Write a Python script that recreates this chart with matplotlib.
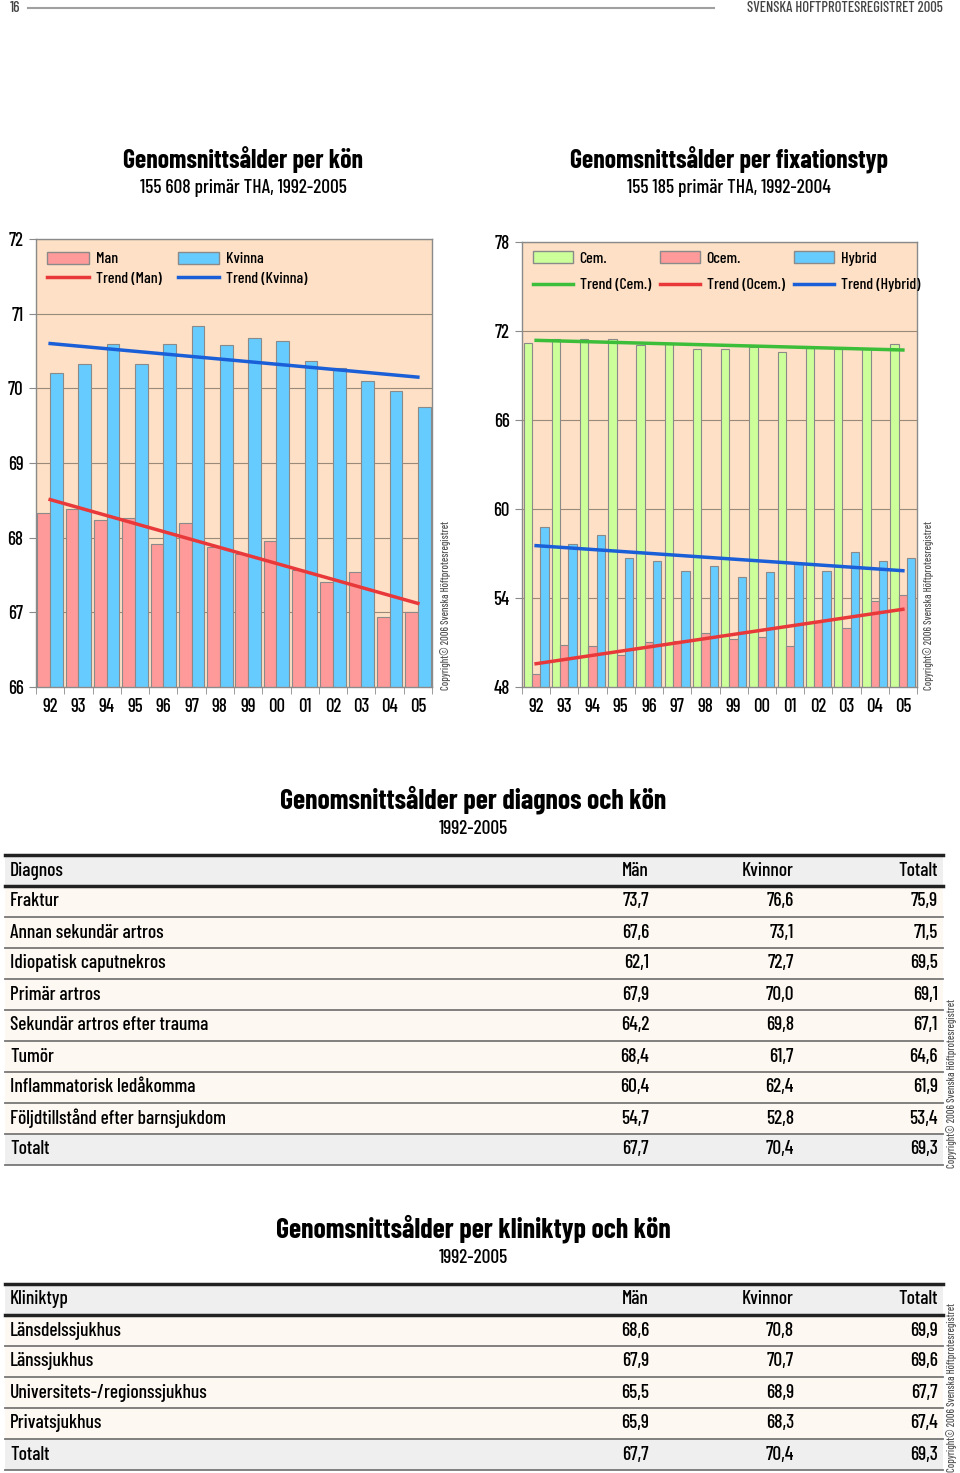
import numpy as np
import matplotlib
matplotlib.use('Agg')
import matplotlib.pyplot as plt
from matplotlib import font_manager as fm
from matplotlib.patches import Rectangle, Patch
from matplotlib.lines import Line2D

# data
years = ['92', '93', '94', '95', '96', '97', '98', '99', '00', '01', '02', '03', '04', '05']

man = [68.33, 68.38, 68.24, 68.27, 67.92, 68.19, 67.88, 67.78, 67.96, 67.57, 67.40, 67.54, 66.94, 67.00]
kvinna = [70.20, 70.33, 70.60, 70.33, 70.60, 70.83, 70.58, 70.68, 70.64, 70.37, 70.27, 70.10, 69.96, 69.75]
trend_man = [68.51, 67.12]
trend_kvinna = [70.60, 70.15]

cem = [71.21, 71.46, 71.46, 71.46, 71.03, 71.21, 70.81, 70.81, 70.90, 70.60, 70.85, 70.80, 70.80, 71.12]
ocem = [48.85, 50.85, 50.74, 50.13, 51.03, 51.10, 51.66, 51.26, 51.37, 50.74, 52.40, 52.00, 53.78, 54.18]
hybrid = [58.79, 57.64, 58.27, 56.70, 56.49, 55.84, 56.18, 55.44, 55.75, 56.30, 55.84, 57.12, 56.49, 56.70]
trend_cem = [71.37, 70.72]
trend_ocem = [49.57, 53.24]
trend_hybrid = [57.53, 55.84]

diag_header = ['Diagnos', 'Män', 'Kvinnor', 'Totalt']
diagnoses = ['Fraktur', 'Annan sekundär artros', 'Idiopatisk caputnekros', 'Primär artros',
             'Sekundär artros efter trauma', 'Tumör', 'Inflammatorisk ledåkomma',
             'Följdtillstånd efter barnsjukdom', 'Totalt']
diag_man = ['73,7', '67,6', '62,1', '67,9', '64,2', '68,4', '60,4', '54,7', '67,7']
diag_kvinnor = ['76,6', '73,1', '72,7', '70,0', '69,8', '61,7', '62,4', '52,8', '70,4']
diag_totalt = ['75,9', '71,5', '69,5', '69,1', '67,1', '64,6', '61,9', '53,4', '69,3']

klin_header = ['Kliniktyp', 'Män', 'Kvinnor', 'Totalt']
kliniker = ['Länsdelssjukhus', 'Länssjukhus', 'Universitets-/regionssjukhus', 'Privatsjukhus', 'Totalt']
klin_man = ['68,6', '67,9', '65,5', '65,9', '67,7']
klin_kvinnor = ['70,8', '70,7', '68,9', '68,3', '70,4']
klin_totalt = ['69,9', '69,6', '67,7', '67,4', '69,3']

# narrow fonts close to the original condensed typeface
installed = {f.name for f in fm.fontManager.ttflist}
bold_ok = {f.name for f in fm.fontManager.ttflist
           if isinstance(f.weight, int) and f.weight >= 600 or f.weight == 'bold'}


def pick(cands, pool):
    for c in cands:
        if c in pool:
            return c
    return 'DejaVu Sans'


BODY = pick(['Barlow Condensed', 'Roboto Condensed', 'Archivo Narrow', 'PT Sans Narrow', 'Abel',
             'Liberation Sans'], installed)
HEAD = pick(['Barlow Condensed', 'Roboto Condensed', 'Archivo Narrow', 'PT Sans Narrow', 'Oswald',
             'Liberation Sans'], bold_ok)
plt.rcParams['font.family'] = [BODY, 'DejaVu Sans']
plt.rcParams['font.weight'] = 'medium'

PEACH = '#FDE0C5'
PINK = '#FF9A9A'
LBLUE = '#66CCFF'
LGREEN = '#CCFF99'
RED = '#E8383A'
BLUE = '#1A5FD8'
GREEN = '#3DBE3A'
EDGE = '#8A8A8A'
COPY = 'Copyright© 2006 Svenska Höftprotesregistret'

W, H = 960, 1473
fig = plt.figure(figsize=(W / 100, H / 100), dpi=100)

# page-level axes in pixel coordinates
bg = fig.add_axes([0, 0, 1, 1], zorder=0)
bg.set_xlim(0, W)
bg.set_ylim(H, 0)
bg.axis('off')

bg.text(10, 8, '16', fontsize=11, color='#444444', va='center', ha='left')
bg.plot([28, 714], [8, 8], color='#A0A0A0', lw=1.5)
bg.text(943, 8, 'SVENSKA HÖFTPROTESREGISTRET 2005', fontsize=10.5, color='#444444',
        va='center', ha='right')


def px_axes(l, t, r, b):
    return fig.add_axes([l / W, 1 - b / H, (r - l) / W, (b - t) / H], zorder=2)


def style_chart(ax, ylo, yhi, step):
    x = np.arange(len(years))
    ax.set_facecolor(PEACH)
    ax.set_xlim(-0.5, len(years) - 0.5)
    ax.set_ylim(ylo, yhi)
    ax.set_yticks(np.arange(ylo, yhi + 0.1, step))
    ax.yaxis.grid(True, color='#9A8A7A', lw=0.8)
    ax.set_axisbelow(True)
    ax.set_xticks(x)
    ax.set_xticklabels(years)
    ax.set_xticks(np.arange(-0.5, len(years)), minor=True)
    ax.tick_params(axis='x', which='major', length=0, pad=8, labelsize=13.5)
    ax.tick_params(axis='x', which='minor', length=5, color=EDGE)
    ax.tick_params(axis='y', length=5, color=EDGE, labelsize=13.5, pad=4)
    for s in ax.spines.values():
        s.set_color(EDGE)
        s.set_linewidth(1)


# left chart
axl = px_axes(36, 239, 432, 687)
x = np.arange(len(years))
style_chart(axl, 66, 72, 1)
bw = 0.45
axl.bar(x - bw / 2, man, bw, color=PINK, edgecolor=EDGE, lw=0.8)
axl.bar(x + bw / 2, kvinna, bw, color=LBLUE, edgecolor=EDGE, lw=0.8)
axl.plot([x[0], x[-1]], trend_man, color=RED, lw=2.5)
axl.plot([x[0], x[-1]], trend_kvinna, color=BLUE, lw=2.5)
hl = [Patch(facecolor=PINK, edgecolor=EDGE), Line2D([], [], color=RED, lw=2.5),
      Patch(facecolor=LBLUE, edgecolor=EDGE), Line2D([], [], color=BLUE, lw=2.5)]
axl.legend(hl, ['Man', 'Trend (Man)', 'Kvinna', 'Trend (Kvinna)'], ncol=2, loc='upper left',
           bbox_to_anchor=(-0.008, 1.003), frameon=False, fontsize=11.5, handlelength=2.6,
           handleheight=0.75, labelspacing=0.3, columnspacing=1.0, handletextpad=0.45)

# right chart
axr = px_axes(522, 242, 917, 687)
style_chart(axr, 48, 78, 6)
bw = 0.295
axr.bar(x - bw, cem, bw, color=LGREEN, edgecolor=EDGE, lw=0.8)
axr.bar(x, ocem, bw, color=PINK, edgecolor=EDGE, lw=0.8)
axr.bar(x + bw, hybrid, bw, color=LBLUE, edgecolor=EDGE, lw=0.8)
axr.plot([x[0], x[-1]], trend_cem, color=GREEN, lw=2.5)
axr.plot([x[0], x[-1]], trend_ocem, color=RED, lw=2.5)
axr.plot([x[0], x[-1]], trend_hybrid, color=BLUE, lw=2.5)
hr = [Patch(facecolor=LGREEN, edgecolor=EDGE), Line2D([], [], color=GREEN, lw=2.5),
      Patch(facecolor=PINK, edgecolor=EDGE), Line2D([], [], color=RED, lw=2.5),
      Patch(facecolor=LBLUE, edgecolor=EDGE), Line2D([], [], color=BLUE, lw=2.5)]
axr.legend(hr, ['Cem.', 'Trend (Cem.)', 'Ocem.', 'Trend (Ocem.)', 'Hybrid', 'Trend (Hybrid)'],
           ncol=3, loc='upper left', bbox_to_anchor=(-0.008, 1.011), frameon=False, fontsize=11.5,
           handlelength=2.5, handleheight=0.75, labelspacing=0.75, columnspacing=0.6,
           handletextpad=0.4)

# chart titles
for cx, title, sub in [(243, 'Genomsnittsålder per kön', '155 608 primär THA, 1992-2005'),
                       (729, 'Genomsnittsålder per fixationstyp', '155 185 primär THA, 1992-2004')]:
    bg.text(cx, 160, title, fontsize=18.5, fontweight='bold', family=[HEAD, 'DejaVu Sans'],
            ha='center', va='center')
    bg.text(cx, 188, sub, fontsize=14, ha='center', va='center')

for cx in [446, 929]:
    bg.text(cx, 606, COPY, fontsize=7.5, color='#555555', rotation=90, ha='center', va='center')


def draw_table(top, title, header, names, c1, c2, c3):
    rh = 31
    bg.text(473, top - 55, title, fontsize=20, fontweight='bold', family=[HEAD, 'DejaVu Sans'],
            ha='center', va='center')
    bg.text(473, top - 26, '1992-2005', fontsize=14, ha='center', va='center')
    rows = [header] + [[n, a, b, c] for n, a, b, c in zip(names, c1, c2, c3)]
    for i, row in enumerate(rows):
        y0 = top + i * rh
        if i == 0 or i == len(rows) - 1:
            fc = '#EFEFEF'
        else:
            fc = '#FDF8F1'
        bg.add_patch(Rectangle((5, y0), 938, rh, facecolor=fc, edgecolor='none'))
        yc = y0 + rh / 2
        bg.text(10, yc, row[0], fontsize=14, ha='left', va='center')
        for xr, val in zip([649, 794, 938], row[1:]):
            bg.text(xr, yc, val, fontsize=14, ha='right', va='center')
        if i >= 1:
            lc, lw = ('#222222', 2.5) if i == 1 else ('#777777', 1.3)
            bg.plot([5, 943], [y0, y0], color=lc, lw=lw)
    bg.plot([5, 943], [top, top], color='#222222', lw=2.5)
    bottom = top + len(rows) * rh
    bg.plot([5, 943], [bottom, bottom], color='#777777', lw=1.3)
    bg.text(952, bottom - 82, COPY, fontsize=7.5, color='#555555', rotation=90,
            ha='center', va='center')


draw_table(855, 'Genomsnittsålder per diagnos och kön', diag_header, diagnoses,
           diag_man, diag_kvinnor, diag_totalt)
draw_table(1284, 'Genomsnittsålder per kliniktyp och kön', klin_header, kliniker,
           klin_man, klin_kvinnor, klin_totalt)

fig.savefig('out.png', dpi=100)
